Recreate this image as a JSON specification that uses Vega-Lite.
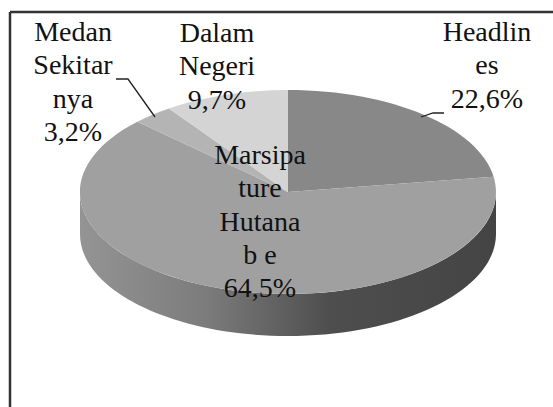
{"$schema":"https://vega.github.io/schema/vega-lite/v6.json","width":553,"height":407,"padding":0,"autosize":"none","background":"white","view":{"stroke":null},
"data":{"values":[
{"slice":"Headlines","share":22.6,"label":["Headlin","es","22,6%"]},
{"slice":"Marsipature Hutanabe","share":64.5,"label":["Marsipa","ture","Hutana","b e","64,5%"]},
{"slice":"Medan Sekitarnya","share":3.2,"label":["Medan","Sekitar","nya","3,2%"]},
{"slice":"Dalam Negeri","share":9.7,"label":["Dalam","Negeri","9,7%"]}
]},
"encoding":{
"x":{"datum":288,"type":"quantitative","scale":{"domain":[0,553],"range":[0,553]},"axis":null},
"y":{"datum":192,"type":"quantitative","scale":{"domain":[0,407],"range":[0,407]},"axis":null}
},
"layer":[
{"transform":[{"filter":"datum.slice==='Marsipature Hutanabe'"}],"mark":{"type":"point","filled":true,"opacity":1,"size":4,"shape":"M-208 0A208 102 0 0 0 208 0L208 42A208 102 0 0 1 -208 42Z","color":{"gradient":"linear","x1":0,"y1":0,"x2":1,"y2":0,"stops":[{"offset":0,"color":"#949494"},{"offset":0.3,"color":"#7c7c7c"},{"offset":0.6,"color":"#4e4e4e"},{"offset":1,"color":"#444444"}]}}},
{"mark":{"type":"point","filled":true,"opacity":1,"size":4},"encoding":{
"shape":{"field":"slice","type":"nominal","legend":null,"scale":{"domain":["Headlines","Marsipature Hutanabe","Medan Sekitarnya","Dalam Negeri"],"range":["M0 0L0 -102A208 102 0 0 1 205.6 -15.3Z","M0 0L205.6 -15.3A208 102 0 1 1 -150.7 -70.3Z","M0 0L-150.7 -70.3A208 102 0 0 1 -119.1 -83.6Z","M0 0L-119.1 -83.6A208 102 0 0 1 0 -102Z"]}},
"color":{"field":"slice","type":"nominal","legend":null,"scale":{"domain":["Headlines","Marsipature Hutanabe","Medan Sekitarnya","Dalam Negeri"],"range":["#888888","#a0a0a0","#b4b4b4","#d4d4d4"]}}}},
{"transform":[{"filter":"datum.slice==='Medan Sekitarnya'"}],"mark":{"type":"point","filled":false,"opacity":1,"size":4,"stroke":"#222222","strokeWidth":1.3,"shape":"M-172 -113L-160 -113L-133 -75"}},
{"transform":[{"filter":"datum.slice==='Headlines'"}],"mark":{"type":"point","filled":false,"opacity":1,"size":4,"stroke":"#222222","strokeWidth":1.3,"shape":"M156 -79L145 -79L133 -75"}},
{"mark":{"type":"rule","stroke":"#333333","strokeWidth":2.5},"data":{"values":[{"frame":"left"}]},"encoding":{"x":{"datum":10,"type":"quantitative"},"y":{"datum":12,"type":"quantitative"},"y2":{"datum":407}}},
{"mark":{"type":"rule","stroke":"#333333","strokeWidth":2.5},"data":{"values":[{"frame":"top"}]},"encoding":{"x":{"datum":10,"type":"quantitative"},"x2":{"datum":553},"y":{"datum":12,"type":"quantitative"}}},
{"transform":[{"filter":"datum.slice==='Medan Sekitarnya'"}],"mark":{"type":"text","font":"Liberation Serif","fontSize":28,"lineHeight":33.3,"align":"center","baseline":"alphabetic","color":"#111111"},"encoding":{"x":{"datum":73,"type":"quantitative"},"y":{"datum":41,"type":"quantitative"},"text":{"field":"label"}}},
{"transform":[{"filter":"datum.slice==='Dalam Negeri'"}],"mark":{"type":"text","font":"Liberation Serif","fontSize":28,"lineHeight":33.3,"align":"center","baseline":"alphabetic","color":"#111111"},"encoding":{"x":{"datum":217,"type":"quantitative"},"y":{"datum":42,"type":"quantitative"},"text":{"field":"label"}}},
{"transform":[{"filter":"datum.slice==='Headlines'"}],"mark":{"type":"text","font":"Liberation Serif","fontSize":28,"lineHeight":33.3,"align":"center","baseline":"alphabetic","color":"#111111"},"encoding":{"x":{"datum":487,"type":"quantitative"},"y":{"datum":41,"type":"quantitative"},"text":{"field":"label"}}},
{"transform":[{"filter":"datum.slice==='Marsipature Hutanabe'"}],"mark":{"type":"text","font":"Liberation Serif","fontSize":28,"lineHeight":33.3,"align":"center","baseline":"alphabetic","color":"#111111"},"encoding":{"x":{"datum":260,"type":"quantitative"},"y":{"datum":164,"type":"quantitative"},"text":{"field":"label"}}}
]}
